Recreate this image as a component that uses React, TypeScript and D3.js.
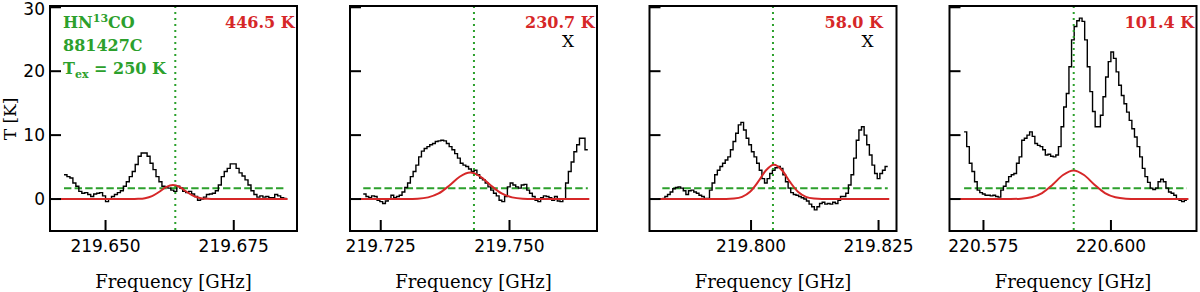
import React from 'react';
import * as d3 from 'd3';

// x-axis limits of each panel (GHz)
const xLimits: [number, number][] = [
  [219.63917, 219.68733],
  [219.71903, 219.76699],
  [219.78009, 219.82852],
  [220.56834, 220.61678],
];
const xTicks = [
  [219.65, 219.675],
  [219.725, 219.75],
  [219.8, 219.825],
  [220.575, 220.6],
];
const yTicks = [0, 10, 20, 30];
const yLimits: [number, number] = [-5, 30.2];

// rest frequency of the line (dotted marker)
const lineFreqs = [219.6636, 219.7431, 219.8043, 220.5927];
const tempLabels = ['446.5 K', '230.7 K', '58.0 K', '101.4 K'];
const flagLabels = ['', 'X', 'X', ''];
const noiseLevel = 1.7;

// observed spectra: first / last channel edge and channel temperatures (K)
const specRanges: [number, number][] = [
  [219.6419, 219.6853],
  [219.7216, 219.7652],
  [219.7826, 219.8268],
  [220.5712, 220.6149],
];
const spec1 = [
  3.8, 3.5, 3.3, 2.5, 2.0, 1.2, 0.9, 1.0, 0.7, 0.4,
  0.8, 0.9, 1.0, 0.5, -0.4, 0, 0.4, 0.7, 1.0, 1.3,
  2.0, 2.7, 3.5, 4.3, 5.4, 6.7, 7.2, 7.2, 6.7, 5.6,
  4.6, 3.5, 2.7, 2.0, 1.9, 1.7, 1.4, 1.2, 2.0, 1.7,
  1.2, 1.0, 1.2, 0.8, 0.4, -0.2, 0, 0.3, 0.7, 0.8,
  0.9, 1.3, 2.2, 3.5, 4.3, 4.8, 5.5, 5.5, 4.8, 4.1,
  3.6, 3.0, 2.2, 1.3, 0.7, 0.3, 0.5, 0.3, 0.4, 0.2,
  0.2, 0.7, 0.5, 0.2, 0.1,
];
const spec2 = [
  0.8, 0.4, 0.2, 0.5, 0.4, -0.2, -0.4, -0.7, -0.3, 0,
  0.6, 0.2, 0.4, 0.6, 1.1, 1.8, 2.5, 3.5, 4.3, 5.3,
  6.6, 7.5, 7.9, 8.2, 8.5, 8.7, 9.0, 9.1, 9.2, 9.1,
  8.7, 8.2, 7.7, 7.1, 6.4, 5.6, 5.3, 5.1, 4.7, 4.3,
  4.5, 3.8, 3.3, 3.0, 2.5, 1.9, 1.4, 0.9, 0.5, -0.2,
  -0.4, 0.4, 1.9, 2.5, 2.2, 1.9, 1.7, 2.2, 2.3, 1.4,
  0.9, 0.4, -0.2, -0.4, 0.2, 0.5, 0.4, 0.2, -0.2, 0.4,
  -0.3, -0.4, 0, 2.5, 4.3, 5.8, 7.4, 8.5, 9.5, 9.5,
  7.7,
];
const spec3 = [
  0.1, 0.4, 0.7, 1.1, 1.6, 1.8, 1.9, 1.7, 1.3, 0.7,
  1.3, 1.4, 1.1, 0.9, 0.6, 0.4, 0.1, 0.1, 1.4, 2.5,
  3.8, 4.5, 5.1, 5.6, 6.1, 6.6, 7.7, 9.0, 10.3, 11.6,
  12.0, 10.8, 9.5, 8.5, 7.4, 6.6, 5.6, 4.5, 3.2, 2.5,
  3.2, 4.0, 4.5, 4.9, 5.1, 4.8, 3.8, 2.7, 1.7, 1.0,
  0.7, 0.6, 0.4, 0.2, 0, -0.3, -0.8, -1.2, -1.7, -1.2,
  -0.7, -0.5, -0.8, -0.7, -0.8, -0.5, -0.7, -0.2, 0.4, 0.4,
  0.9, 2.2, 3.8, 6.4, 9.2, 10.8, 11.3, 10.0, 8.5, 6.9,
  5.3, 4.0, 3.2, 4.0, 4.5, 5.1,
];
const spec4 = [
  10.5, 8.2, 5.6, 4.3, 2.7, 1.4, 1.0, 0.8, 0.6, 0.6,
  0.5, 0.6, 0.4, 0.3, 1.4, 2.0, 2.7, 3.5, 3.8, 4.0,
  5.6, 6.6, 9.2, 9.5, 10.0, 10.5, 9.8, 8.7, 8.4, 8.2,
  7.7, 6.9, 7.0, 6.7, 6.6, 6.9, 8.2, 11.3, 14.4, 16.5,
  20.7, 24.9, 27.0, 27.9, 28.3, 27.8, 24.9, 20.7, 16.8, 13.7,
  11.3, 11.3, 13.1, 16.0, 19.1, 21.5, 23.0, 22.0, 19.9, 17.8,
  16.2, 14.9, 13.6, 12.3, 11.0, 9.7, 8.2, 6.6, 4.8, 3.5,
  2.6, 1.7, 1.5, 1.7, 2.7, 3.1, 2.7, 1.7, 1.1, 0.9,
  0.6, 0, -0.2, -0.4, -0.2,
];
const spectra = [spec1, spec2, spec3, spec4];

// LTE model (freq GHz, T K)
const model1: [number, number][] = [
  [219.6405, 0], [219.65498, 0], [219.65634, 0.03], [219.6577, 0.14], [219.65906, 0.46],
  [219.66042, 1.1], [219.66178, 1.85], [219.66314, 2.2], [219.6645, 1.85], [219.66586, 1.1],
  [219.66722, 0.46], [219.66858, 0.14], [219.66994, 0.03], [219.6713, 0], [219.6855, 0],
];
const model2: [number, number][] = [
  [219.7208, 0], [219.73012, 0.01], [219.73216, 0.05], [219.7342, 0.26], [219.73624, 0.87],
  [219.73828, 2.08], [219.74032, 3.49], [219.74236, 4.15], [219.7444, 3.49], [219.74644, 2.08],
  [219.74848, 0.87], [219.75052, 0.26], [219.75256, 0.05], [219.7546, 0.01], [219.7655, 0],
];
const model3: [number, number][] = [
  [219.7818, 0], [219.79511, 0.01], [219.79667, 0.07], [219.79824, 0.34], [219.79981, 1.13],
  [219.80137, 2.68], [219.80294, 4.51], [219.8045, 5.36], [219.80607, 4.51], [219.80763, 2.68],
  [219.8092, 1.13], [219.81076, 0.34], [219.81233, 0.07], [219.81389, 0.01], [219.8271, 0],
];
const model4: [number, number][] = [
  [220.5704, 0], [220.58033, 0.01], [220.58239, 0.06], [220.58444, 0.28], [220.5865, 0.94],
  [220.58855, 2.24], [220.59061, 3.76], [220.59266, 4.47], [220.59472, 3.76], [220.59677, 2.24],
  [220.59883, 0.94], [220.60088, 0.28], [220.60294, 0.06], [220.60499, 0.01], [220.6152, 0],
];
const models = [model1, model2, model3, model4];

const GREEN = '#2ca02c';
const RED = '#d62728';
const SERIF = '"DejaVu Serif", serif';
const SANS = '"DejaVu Sans", sans-serif';

const panelLeft = [50, 350, 649.5, 949.5];
const panelWidth = 247;
const plotTop = 6;
const plotBottom = 231;
const tickLen = 11;

function Panel({ i }: { i: number }) {
  const left = panelLeft[i];
  const right = left + panelWidth;
  const x = d3.scaleLinear().domain(xLimits[i]).range([left, right]);
  const y = d3.scaleLinear().domain(yLimits).range([plotBottom, plotTop]);

  const vals = spectra[i];
  const [f0, f1] = specRanges[i];
  const dw = (f1 - f0) / vals.length;
  const pts: [number, number][] = vals.map((v, k) => [f0 + k * dw, v]);
  pts.push([f1, vals[vals.length - 1]]);

  const stepLine = d3.line<[number, number]>()
    .x(d => x(d[0]))
    .y(d => y(d[1]))
    .curve(d3.curveStepAfter);
  const smoothLine = d3.line<[number, number]>()
    .x(d => x(d[0]))
    .y(d => y(d[1]))
    .curve(d3.curveMonotoneX);

  const fmt = d3.format('.3f');

  return (
    <g>
      {/* noise level */}
      <line x1={x(f0)} x2={x(f1)} y1={y(noiseLevel)} y2={y(noiseLevel)}
        stroke={GREEN} strokeWidth={2} strokeDasharray="7.4,3.2" />
      <path d={stepLine(pts) || ''} fill="none" stroke="#000" strokeWidth={1.4} />
      <path d={smoothLine(models[i]) || ''} fill="none" stroke={RED} strokeWidth={2} />
      <line x1={x(lineFreqs[i])} x2={x(lineFreqs[i])} y1={plotTop} y2={plotBottom}
        stroke={GREEN} strokeWidth={2} strokeDasharray="2,4" />

      {/* ticks */}
      {xTicks[i].map(t => (
        <g key={t}>
          <line x1={x(t)} x2={x(t)} y1={plotBottom} y2={plotBottom - tickLen} stroke="#000" strokeWidth={2} />
          <text x={x(t)} y={252} textAnchor="middle" fontFamily={SANS} fontSize={17}>{fmt(t)}</text>
        </g>
      ))}
      {yTicks.map(t => (
        <g key={t}>
          <line x1={left} x2={left + tickLen} y1={y(t)} y2={y(t)} stroke="#000" strokeWidth={2} />
          {i === 0 && (
            <text x={left - 5} y={Math.max(y(t) + 6.2, 15)} textAnchor="end" fontFamily={SANS} fontSize={17}>{t}</text>
          )}
        </g>
      ))}

      <rect x={left} y={plotTop} width={panelWidth} height={plotBottom - plotTop}
        fill="none" stroke="#000" strokeWidth={2} />

      <text x={left + 175} y={28} fontFamily={SERIF} fontSize={16} fontWeight="bold" fill={RED}>{tempLabels[i]}</text>
      {flagLabels[i] && (
        <text x={left + 212} y={47} fontFamily={SERIF} fontSize={17} fill="#000">{flagLabels[i]}</text>
      )}
      <text x={(left + right) / 2} y={288} textAnchor="middle" fontFamily={SERIF} fontSize={18}>Frequency [GHz]</text>
    </g>
  );
}

export default function App() {
  return (
    <svg width={1200} height={292} style={{ position: 'absolute', left: 0, top: 0, background: '#fff' }}>
      {[0, 1, 2, 3].map(i => <Panel key={i} i={i} />)}
      <text transform="translate(16,119) rotate(-90)" textAnchor="middle" fontFamily={SERIF} fontSize={17}>T [K]</text>
      <g fontFamily={SERIF} fontSize={16} fontWeight="bold" fill={GREEN}>
        <text x={63} y={28}>HN<tspan fontSize={11} dy={-6}>13</tspan><tspan dy={6}>CO</tspan></text>
        <text x={63} y={51}>881427C</text>
        <text x={63} y={74}>T<tspan fontSize={11} dy={4}>ex</tspan><tspan dy={-4}> = 250 K</tspan></text>
      </g>
    </svg>
  );
}
